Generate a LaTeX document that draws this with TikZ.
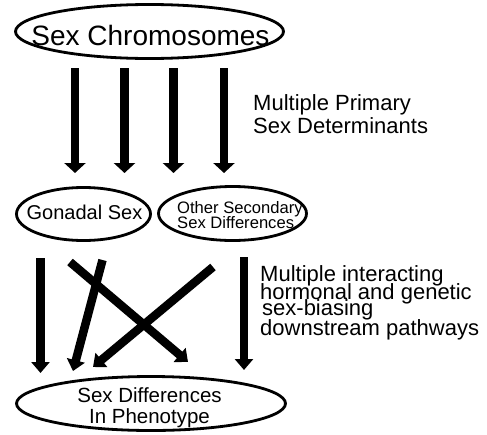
\documentclass[tikz,border=0pt]{standalone}
\usepackage{fontspec}
\setmainfont{Liberation Sans}
\usetikzlibrary{arrows.meta, shapes.geometric}
\lineskiplimit=-\maxdimen

\begin{document}
\begin{tikzpicture}[x=1pt, y=1pt, yscale=-1, xscale=1,
  oval/.style={draw, ellipse, line width=2.8pt, inner sep=0pt},
  fatarrow/.style={line width=8.5pt, -{Triangle[width=21pt, length=10pt]}},
  slimarrow/.style={line width=8.5pt, -{Triangle[width=18pt, length=11pt]}}]
\useasboundingbox (0,0) rectangle (487,434);
% 椭圆
\node[oval, minimum width=268pt, minimum height=54pt] (chrom) at (149.5,31.5) {};
\node[oval, minimum width=134pt, minimum height=53pt] (gonad) at (83.5,214) {};
\node[oval, minimum width=148pt, minimum height=54pt] (other) at (232.5,213.5) {};
\node[oval, minimum width=269pt, minimum height=54pt] (pheno) at (151,403.5) {};
% 初级决定因素
\foreach \x [count=\i] in {75,124.5,173.5,224}{
  \coordinate (p\i) at (\x,68);
  \coordinate (q\i) at (\x,173);
  \draw[fatarrow] (p\i) -- (q\i);
}
% 下游通路
\coordinate (s1) at (40.5,258); \coordinate (t1) at (40.5,373);
\coordinate (s2) at (102.5,260); \coordinate (t2) at (73,371);
\coordinate (s3) at (70,262);   \coordinate (t3) at (188,362);
\coordinate (s4) at (213,267);  \coordinate (t4) at (93,367);
\coordinate (s5) at (244,257);  \coordinate (t5) at (244,370);
\draw[slimarrow] (s1) -- (t1);
\draw[slimarrow] (s2) -- (t2);
\draw[slimarrow] (s3) -- (t3);
\draw[slimarrow] (s4) -- (t4);
\draw[slimarrow] (s5) -- (t5);
%Text
\node[anchor=base, font=\fontsize{28}{30}\selectfont] (chromtxt) at (150.5,45) {Sex Chromosomes};
\node[anchor=base, font=\fontsize{20}{22}\selectfont] (gonadtxt) at (84.5,219) {Gonadal Sex};
\node[anchor=north west, inner sep=0pt, align=left, font=\fontsize{16.6}{15}\selectfont] (othertxt) at (177,201) {Other Secondary\\Sex Differences};
\node[anchor=north, inner sep=0pt, align=center, font=\fontsize{20.5}{21}\selectfont] (phenotxt) at (149.5,387) {Sex Differences\\In Phenotype};
\node[anchor=north west, inner sep=0pt, align=left, font=\fontsize{22}{23}\selectfont] (primary) at (253,94) {Multiple Primary\\Sex Determinants};
\node[anchor=north west, inner sep=0pt, align=left, font=\fontsize{22}{18}\selectfont] (pathways) at (260,265.5) {Multiple interacting\\hormonal and genetic\\[-2pt]\hspace*{2pt}sex-biasing\\[2pt]downstream pathways};
\end{tikzpicture}
\end{document}
